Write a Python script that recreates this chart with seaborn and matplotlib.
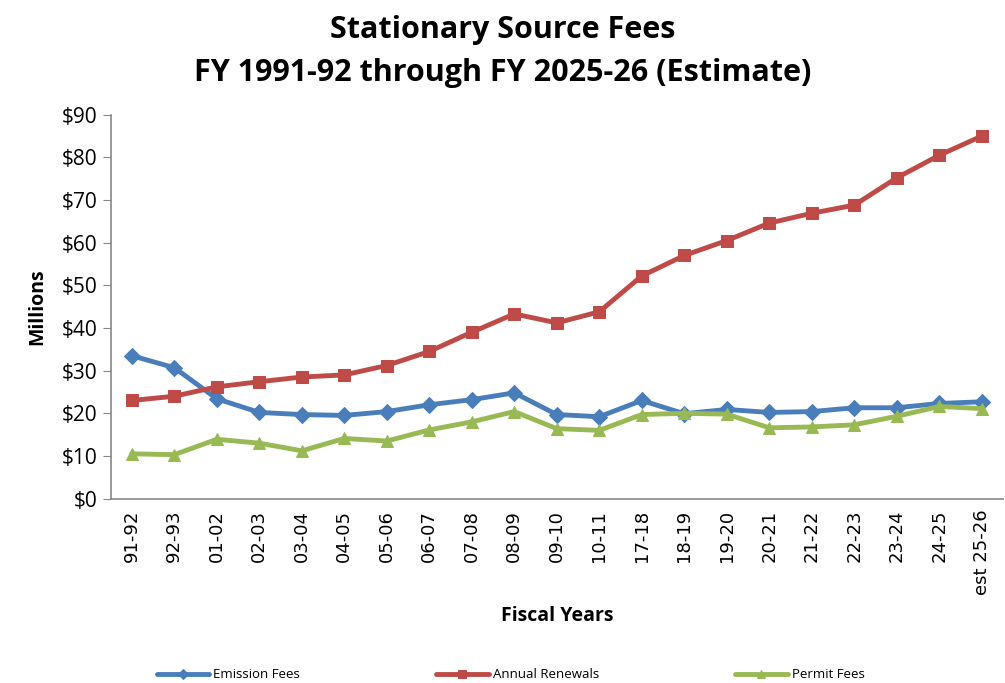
import matplotlib
matplotlib.use("Agg")
import matplotlib.pyplot as plt
from matplotlib.ticker import FuncFormatter, MultipleLocator
import seaborn as sns
import numpy as np
import pandas as pd

years = ["91-92", "92-93", "01-02", "02-03", "03-04", "04-05", "05-06", "06-07",
         "07-08", "08-09", "09-10", "10-11", "17-18", "18-19", "19-20", "20-21",
         "21-22", "22-23", "23-24", "24-25", "est 25-26"]
emission = [33.5, 30.7, 23.4, 20.2, 19.7, 19.5, 20.4, 22.0, 23.2, 24.8, 19.7,
            19.2, 23.0, 19.9, 20.9, 20.2, 20.4, 21.3, 21.3, 22.3, 22.7]
renewals = [23.0, 24.0, 26.2, 27.4, 28.5, 29.0, 31.2, 34.5, 39.0, 43.3, 41.2,
            43.8, 52.2, 57.0, 60.5, 64.6, 66.9, 68.8, 75.2, 80.5, 85.0]
permit = [10.5, 10.3, 13.9, 13.0, 11.2, 14.1, 13.5, 16.1, 18.0, 20.4, 16.4,
          16.0, 19.7, 20.0, 19.8, 16.6, 16.8, 17.3, 19.3, 21.6, 21.1]

sns.set_style("white")
plt.rcParams['font.family'] = ['Open Sans', 'DejaVu Sans']
plt.rcParams['text.color'] = 'black'
plt.rcParams['xtick.color'] = 'black'
plt.rcParams['ytick.color'] = 'black'
plt.rcParams['axes.labelcolor'] = 'black'

df = pd.DataFrame({"pos": np.arange(len(years)),
                   "Emission Fees": emission,
                   "Annual Renewals": renewals,
                   "Permit Fees": permit})

fig = plt.figure(figsize=(10.05, 6.83), dpi=100)
ax = fig.add_axes([0.11, 0.27, 0.888, 0.562])

series = [("Emission Fees", "#4A7EBB", "D", 8),
          ("Annual Renewals", "#BE4B48", "s", 9),
          ("Permit Fees", "#98B954", "^", 9)]
for name, col, mk, ms in series:
    sns.lineplot(data=df, x="pos", y=name, ax=ax, color=col, marker=mk,
                 markersize=ms, markeredgecolor=col, linewidth=3.5, label=name,
                 legend=False)

ax.set_xlim(-0.5, len(years) - 0.5)
ax.set_ylim(0, 90)
ax.yaxis.set_major_locator(MultipleLocator(10))
ax.yaxis.set_major_formatter(FuncFormatter(lambda v, p: f"${v:.0f}"))
ax.set_xticks(np.arange(len(years)))
ax.set_xticklabels(years, rotation=90, fontsize=13, family="DejaVu Sans")
ax.set_xticks(np.arange(len(years) + 1) - 0.5, minor=True)
ax.tick_params(axis="x", which="major", length=0, pad=8)
ax.tick_params(axis="x", which="minor", length=6, color="#888888", direction="out")
ax.tick_params(axis="y", length=6, color="#888888", labelcolor="black",
               direction="out", labelsize=15)
ax.tick_params(axis="both", bottom=True, left=True)
for s in ["top", "right"]:
    ax.spines[s].set_visible(False)
for s in ["left", "bottom"]:
    ax.spines[s].set_color("#888888")
    ax.spines[s].set_linewidth(1.2)

ax.set_ylabel("Millions", fontsize=14, fontweight="bold", labelpad=10)
ax.set_xlabel("Fiscal Years", fontsize=14, fontweight="bold", labelpad=8)
fig.suptitle("Stationary Source Fees\nFY 1991-92 through FY 2025-26 (Estimate)",
             fontsize=22, fontweight="bold", y=0.978, linespacing=1.55)

handles, labels = ax.get_legend_handles_labels()
fig.legend(handles, labels, loc="lower center", ncol=3, frameon=False,
           fontsize=9.5, columnspacing=10.3, handlelength=4.0,
           handletextpad=0.3, bbox_to_anchor=(0.508, -0.015), markerscale=0.6)

fig.savefig("out.png", dpi=100)
